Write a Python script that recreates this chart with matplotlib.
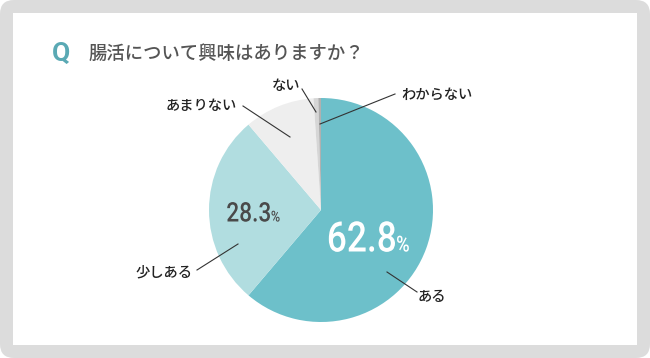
import matplotlib.pyplot as plt
from matplotlib.patches import FancyBboxPatch, Rectangle, PathPatch
from matplotlib.textpath import TextPath
from matplotlib.font_manager import FontProperties
from matplotlib.transforms import Affine2D

plt.rcParams['font.family'] = ['Noto Sans CJK JP', 'DejaVu Sans']

# survey answers (drawn share)
labels = ['ある', '少しある', 'あまりない', 'ない', 'わからない']
values = [62.8, 28.3, 10.4, 0.7, 0.4]
colors = ['#6dc0ca', '#b1dde0', '#eeeeee', '#d6d6d6', '#b0b0b0']
title = '腸活について興味はありますか？'

W, H = 650, 358
fig = plt.figure(figsize=(6.5, 3.58), dpi=100)

# frame
bg = fig.add_axes([0, 0, 1, 1])
bg.set_xlim(0, W)
bg.set_ylim(H, 0)
bg.axis('off')
bg.add_patch(FancyBboxPatch((0, 0), W, H, boxstyle='round,pad=0,rounding_size=14',
                            fc='#dcdcdc', ec='none'))
bg.add_patch(Rectangle((13, 13), 624, 332, fc='white', ec='none'))

# pie, center (321, 210) radius 112 px
cx, cy, r = 321, 210, 112
pax = fig.add_axes([(cx - r) / W, (H - cy - r) / H, 2 * r / W, 2 * r / H])
pax.pie(values, colors=colors, startangle=90, counterclock=False,
        wedgeprops=dict(linewidth=0))
pax.set_xlim(-1, 1)
pax.set_ylim(-1, 1)
pax.axis('off')

ov = fig.add_axes([0, 0, 1, 1])
ov.set_xlim(0, W)
ov.set_ylim(H, 0)
ov.axis('off')

# title
ov.text(52, 54, 'Q', color='#5aa9b4', fontsize=19, fontweight='bold',
        family=['Roboto', 'DejaVu Sans'], va='center', ha='left')
ov.text(89, 54, title, color='#555555', fontsize=13.2, fontweight='medium',
        va='center', ha='left')

# labels with leader lines
label_pos = {
    'ある': ((387, 272), (417, 292), (418, 297, 'left')),
    '少しある': ((238, 244), (197, 270), (192, 272, 'right')),
    'あまりない': ((290, 137), (243, 106), (237, 106, 'right')),
    'ない': ((316, 112), (302, 89), (286, 86, 'center')),
    'わからない': ((320, 124), (395, 94), (401, 95, 'left')),
}
for lab in labels:
    p0, p1, (tx, ty, ha) = label_pos[lab]
    ov.plot([p0[0], p1[0]], [p0[1], p1[1]], color='#333333', lw=0.8)
    ov.text(tx, ty, lab, fontsize=10.3, fontweight='medium', color='#222222',
            ha=ha, va='center')

# percentages, drawn as condensed text paths
num_fp = FontProperties(family='Roboto', weight='medium')


def squeezed(x, y, s, size, color, ha, sx=0.84):
    tp = TextPath((0, 0), s, size=size, prop=num_fp)
    ext = tp.get_extents()
    x0 = x - ext.x1 * sx if ha == 'right' else x - ext.x0 * sx
    tr = Affine2D().scale(sx, -1).translate(x0, y) + ov.transData
    ov.add_patch(PathPatch(tp, fc=color, ec='none', transform=tr))


squeezed(395, 251.5, f'{values[0]}', 42, 'white', 'right')
squeezed(397, 251.5, '%', 22, 'white', 'left')
squeezed(270, 221.5, f'{values[1]}', 27, '#4a4a4a', 'right')
squeezed(271.5, 221.5, '%', 15, '#4a4a4a', 'left')

fig.savefig('out.png', dpi=100)
